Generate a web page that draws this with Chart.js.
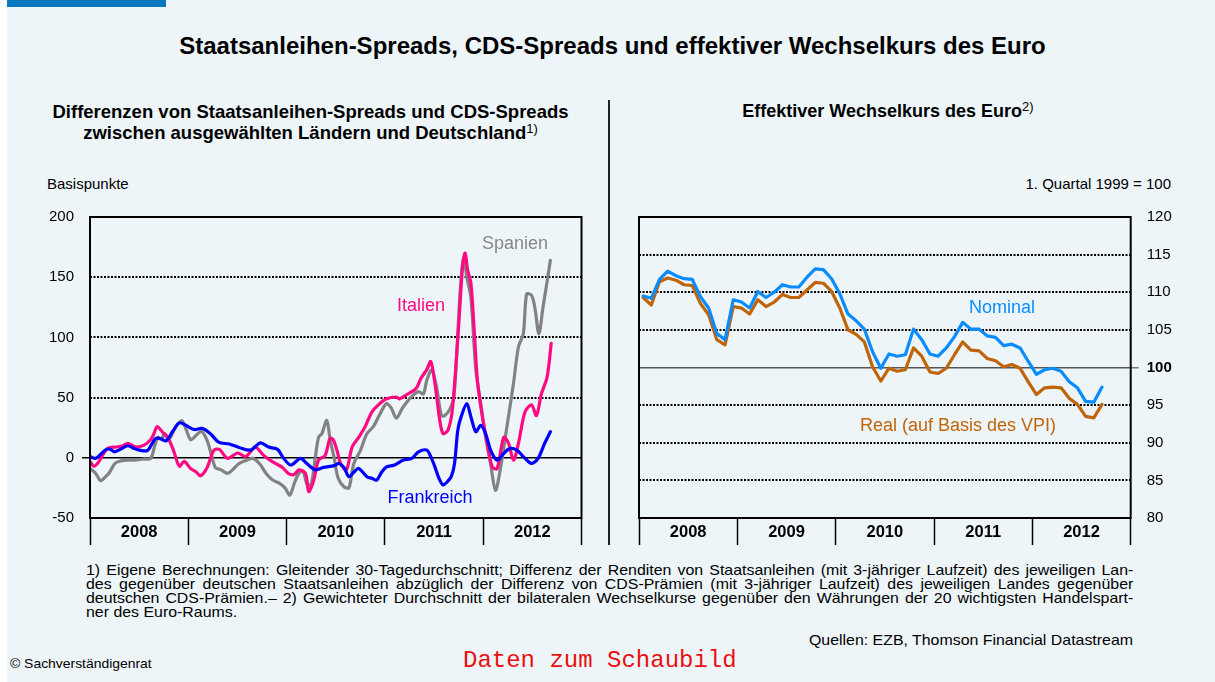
<!DOCTYPE html>
<html lang="de">
<head>
<meta charset="utf-8">
<script src="https://cdn.jsdelivr.net/npm/chart.js@4.4.1/dist/chart.umd.min.js"></script>
<style>
  html, body { margin: 0; padding: 0; background: #ffffff; }
  body { width: 1215px; height: 682px; position: relative; overflow: hidden; font-family: 'Liberation Sans', Arial, sans-serif; color: #000; }
  .panel { position: absolute; left: 7px; top: 0; width: 1208px; height: 682px; background: #edf5f8; }
  .bar { position: absolute; left: 7px; top: 0; width: 159px; height: 7px; background: #0a78be; }
  .t { position: absolute; white-space: nowrap; }
  .fn { position: absolute; left: 86px; width: 988px; transform: scaleX(1.06); transform-origin: 0 0; font-family: 'Liberation Sans', Arial, sans-serif; font-size: 15px; line-height: 14px; white-space: nowrap; }
  .fn div { text-align: justify; text-align-last: justify; height: 14px; }
  .fn div.last { text-align-last: left; }
  canvas { position: absolute; }
  sup { font-weight: normal; font-size: 13px; vertical-align: 6px; line-height: 0; }
</style>
</head>
<body>
<div class="panel"></div>
<div class="bar"></div>

<div class="t" style="left:0;width:1225px;top:32px;text-align:center;font-size:24px;font-weight:bold;line-height:28px;">Staatsanleihen-Spreads, CDS-Spreads und effektiver Wechselkurs des Euro</div>

<div class="t" style="left:0;width:621px;top:101px;text-align:center;font-size:18.5px;font-weight:bold;line-height:21px;">Differenzen von Staatsanleihen-Spreads und CDS-Spreads<br>zwischen ausgewählten Ländern und Deutschland<sup>1)</sup></div>
<div class="t" style="left:688px;width:400px;top:101px;text-align:center;font-size:18px;font-weight:bold;line-height:21px;">Effektiver Wechselkurs des Euro<sup>2)</sup></div>

<div class="t" style="left:47px;top:175px;font-size:15px;line-height:18px;">Basispunkte</div>
<div class="t" style="left:871px;width:300px;top:175px;text-align:right;font-size:15px;line-height:18px;">1. Quartal 1999 = 100</div>

<div style="position:absolute;left:608px;top:100px;width:2px;height:445px;background:#222;"></div>

<canvas id="cl" width="600" height="348" style="left:0;top:200px;width:600px;height:348px;"></canvas>
<canvas id="cr" width="605" height="348" style="left:610px;top:200px;width:605px;height:348px;"></canvas>

<div class="t" style="left:455px;width:120px;top:232px;text-align:center;font-size:18px;line-height:22px;color:#888888;">Spanien</div>
<div class="t" style="left:361px;width:120px;top:294px;text-align:center;font-size:18px;line-height:22px;color:#ff0a82;">Italien</div>
<div class="t" style="left:370px;width:120px;top:486px;text-align:center;font-size:18px;line-height:22px;color:#0000ff;">Frankreich</div>
<div class="t" style="left:942px;width:120px;top:296px;text-align:center;font-size:18px;line-height:22px;color:#0a8cff;">Nominal</div>
<div class="t" style="left:828px;width:260px;top:414px;text-align:center;font-size:18px;line-height:22px;color:#c0640a;">Real (auf Basis des VPI)</div>

<div class="fn" style="top:563px;">
  <div>1) Eigene Berechnungen: Gleitender 30-Tagedurchschnitt; Differenz der Renditen von Staatsanleihen (mit 3-jähriger Laufzeit) des jeweiligen Lan-</div>
  <div>des gegenüber deutschen Staatsanleihen abzüglich der Differenz von CDS-Prämien (mit 3-jähriger Laufzeit) des jeweiligen Landes gegenüber</div>
  <div>deutschen CDS-Prämien.– 2) Gewichteter Durchschnitt der bilateralen Wechselkurse gegenüber den Währungen der 20 wichtigsten Handelspart-</div>
  <div class="last">ner des Euro-Raums.</div>
</div>
<div class="t" style="left:633px;width:500px;top:632px;text-align:right;transform:scaleX(1.06);transform-origin:500px 0;font-size:15px;line-height:16px;">Quellen: EZB, Thomson Financial Datastream</div>
<div class="t" style="left:10px;top:657px;transform:scaleX(1.07);transform-origin:0 0;font-size:13px;line-height:14px;">© Sachverständigenrat</div>
<div class="t" style="left:463px;top:648px;font-family:'Liberation Mono','DejaVu Sans Mono',monospace;font-size:24px;line-height:26px;color:#e81010;">Daten zum Schaubild</div>

<script>
// ---------- DATA ----------
const yearLabels = ['2008', '2009', '2010', '2011', '2012'];
const xTickMonths = [0, 6, 12, 18, 24, 30, 36, 42, 48, 54, 60];
const leftTicks = [-50, 0, 50, 100, 150, 200];
const rightTicks = [80, 85, 90, 95, 100, 105, 110, 115, 120];

// Left panel: months since Jan 2008 and values in basis points (30-day moving average)
const spanienMonths = [0,0.7,1.3,2.0,2.4,3.0,3.5,4.5,5.5,6.5,7.4,7.9,8.3,8.7,9.1,9.6,10.5,11.2,11.6,12.3,13.0,13.6,14.2,14.6,15.3,16.0,16.8,17.4,18.2,19.1,19.9,20.7,21.5,22.3,23.1,23.8,24.4,25.0,25.5,26.0,26.5,27.0,27.5,27.9,28.3,28.9,29.3,29.8,30.3,31.0,31.6,32.2,33.0,33.8,34.6,35.6,36.2,36.8,37.4,38.2,39.3,40.1,40.7,41.1,41.7,42.3,42.9,43.3,43.9,44.4,44.8,45.2,45.6,46.0,46.5,47.1,47.7,48.3,48.9,49.5,50.1,50.9,51.7,52.3,52.9,53.3,53.9,54.3,54.8,55.3,55.7,56.2];
const spanienValues = [-9,-13,-19,-15,-12,-5,-3,-2,-2,-1,-0.5,10,17,15,20,15,26,31,26,15,19,22,16,8,-8,-10,-13,-10,-4.7,-2,-0.5,-5,-13,-18.5,-21,-25,-31,-20,-13,-11,-22,-22,0,17,20,31,16,0,-17,-24,-25,-5,6,20,26,39,45,41,33,42,51,55,53,64,73,59,35,35,40,50,90,140,166,150,133,73,45,17,-5,-27,-9,26,62,92,103,136,135,125,103,125,142,164];

const italienMonths = [0,0.5,1.1,1.6,2.2,3.2,4.0,4.6,5.6,6.6,7.4,7.8,8.2,8.9,9.5,10.2,10.9,11.5,12.3,13.0,13.5,14.3,15.1,15.8,16.8,18.0,19.0,19.6,20.2,21.2,22.2,23.5,24.2,24.9,25.5,26.3,26.7,27.3,27.9,28.7,29.3,29.7,30.2,30.6,31.3,32.0,32.8,33.6,34.4,35.2,36.2,37.4,37.8,38.8,39.8,40.4,41.1,41.6,42.1,42.7,43.1,43.7,44.2,44.6,45.1,45.5,45.8,46.1,46.5,46.9,47.3,47.9,48.5,49.1,49.7,50.5,51.1,51.7,52.3,53.1,53.9,54.5,55.1,55.8,56.3];
const italienValues = [-3,-7,-3,3,8,9,10,12,9,10.5,15,20,26,21,17,6,-7,-3,-9,-12,-15,-8,6,7,-0.5,4,1,5,9,2,-3,-8,-13,-14,-10,-13,-28,-19,-2,2,16,15,5,-5,-10,9,17,26,38,44,49,50.5,49,53,57.5,66,73,80,62,31,20,23,38,70,120,160,170,156,145,106,64,34,12,-7.5,-9,17,12,-2,12,38,44,35,53,67,95];

const frankreichMonths = [0,0.7,1.3,2.0,2.5,3.0,3.7,4.6,5.3,6.0,7.0,7.6,8.0,8.6,9.3,10.1,10.9,11.7,12.7,13.7,14.7,15.7,17.0,18.2,19.6,20.8,21.8,22.9,23.6,24.5,25.7,26.5,27.5,28.5,29.8,30.4,31.0,31.6,32.2,32.8,33.8,34.4,35.0,35.6,36.2,37.2,38.2,39.3,40.1,41.1,41.6,42.1,42.6,43.1,43.6,44.1,44.5,44.9,45.3,46.0,46.5,47.1,47.7,48.3,48.9,49.7,50.5,51.3,52.1,52.9,53.9,54.7,55.5,56.2];
const frankreichValues = [1,-0.5,3,7,7,5,7,10,8,6.4,6,12,16,16,14,22,29,27,23.5,24.4,20,13,11.4,8.6,6.4,12.4,9,7,0,-6,-0.5,-5,-10,-8,-6.5,-4.7,-8,-15.7,-12,-8.8,-15.7,-17,-18.5,-12,-7.5,-6,-2,-0.5,5,6.4,1,-7.5,-17,-22.6,-20,-15.7,-4.7,23,34,45,34,21.6,27,20,6.4,-2,3.6,7.8,6.4,1,-4.7,-0.5,12,21.6];

// Right panel: monthly values Jan 2008 - Sep 2012 (1. Quartal 1999 = 100)
const nominalValues = [109.5,109.2,111.7,112.8,112.2,111.8,111.7,109.4,107.9,104.5,103.7,109.0,108.7,107.9,110.1,109.3,110.0,111.0,110.7,110.7,112.0,113.1,113.0,111.8,109.8,107.1,106.2,105.1,102.1,99.9,101.8,101.5,101.7,105.1,103.7,101.8,101.5,102.6,104.1,106.0,105.1,105.1,104.2,104.0,102.9,103.1,102.6,100.8,99.1,99.7,99.9,99.5,98.1,97.3,95.5,95.4,97.4];
const realValues = [109.3,108.3,111.4,111.9,111.6,111.0,110.9,108.5,107.0,103.7,103.0,108.1,107.9,107.1,109.0,108.1,108.7,109.7,109.3,109.3,110.3,111.3,111.2,110.1,107.9,105.0,104.4,103.4,100.1,98.2,99.9,99.5,99.7,102.6,101.5,99.4,99.2,99.9,101.7,103.4,102.3,102.2,101.2,100.9,100.1,100.4,99.9,98.1,96.4,97.3,97.4,97.3,95.9,95.1,93.5,93.3,95.1];

// ---------- CHARTS ----------
Chart.defaults.font.family = "'Liberation Sans', Arial, sans-serif";
Chart.defaults.color = '#000';

const pts = (ms, vs) => ms.map((m, i) => ({ x: m, y: vs[i] }));
const monthly = vs => vs.map((v, i) => ({ x: i + 0.5, y: v }));
const CLEAR = 'rgba(0,0,0,0)';

const framePlugin = {
  id: 'frame',
  afterDraw(chart) {
    const a = chart.chartArea, c = chart.ctx;
    c.save();
    c.strokeStyle = '#000';
    c.lineWidth = 2;
    c.strokeRect(a.left, a.top, a.right - a.left, a.bottom - a.top);
    c.restore();
  }
};

function xAxis() {
  return {
    type: 'linear', min: 0, max: 60,
    afterBuildTicks: s => { s.ticks = xTickMonths.map(v => ({ value: v })); },
    afterFit: s => { s.height = 30; },
    grid: {
      drawOnChartArea: false, drawTicks: true, tickLength: 27, tickWidth: 1.5,
      tickColor: c => (c.tick && c.tick.value % 12 === 0) ? '#000' : CLEAR
    },
    border: { display: false },
    ticks: {
      autoSkip: false, maxRotation: 0, minRotation: 0, padding: -22,
      font: { size: 16.5, weight: 'bold' },
      callback: v => (v % 12 === 6) ? yearLabels[(v - 6) / 12] : ''
    }
  };
}

const lineDs = (label, data, color, tension) => ({
  label, data, borderColor: color, backgroundColor: color,
  borderWidth: 3.2, pointRadius: 0, tension: tension, fill: false,
  borderJoinStyle: 'round', borderCapStyle: 'round'
});

new Chart(document.getElementById('cl'), {
  type: 'line',
  data: {
    datasets: [
      lineDs('Frankreich', pts(frankreichMonths, frankreichValues), '#0000ff', 0.3),
      lineDs('Italien', pts(italienMonths, italienValues), '#ff0a82', 0.3),
      lineDs('Spanien', pts(spanienMonths, spanienValues), '#828282', 0.3)
    ]
  },
  options: {
    responsive: false, animation: false, maintainAspectRatio: false,
    layout: { padding: { left: 0, right: 18.5, top: 15.7, bottom: 0 } },
    plugins: { legend: { display: false }, tooltip: { enabled: false } },
    scales: {
      x: xAxis(),
      y: {
        min: -50, max: 200,
        afterBuildTicks: s => { s.ticks = leftTicks.map(v => ({ value: v })); },
        afterFit: s => { s.width = 90; },
        grid: {
          lineWidth: c => (c.tick && c.tick.value === 0) ? 1.5 : 2,
          color: c => (!c.tick || c.tick.value === 200 || c.tick.value === -50) ? CLEAR : '#000',
          drawTicks: true, tickLength: 8, tickWidth: 1.5,
          tickColor: c => (c.tick && c.tick.value === 0) ? '#000' : CLEAR
        },
        border: { display: false, dash: c => (c.tick && c.tick.value === 0) ? [] : [2, 1.5] },
        ticks: { padding: 8, font: { size: 15 } }
      }
    }
  },
  plugins: [framePlugin]
});

new Chart(document.getElementById('cr'), {
  type: 'line',
  data: {
    datasets: [
      lineDs('Nominal', monthly(nominalValues), '#0a8cff', 0),
      lineDs('Real (auf Basis des VPI)', monthly(realValues), '#c0640a', 0)
    ]
  },
  options: {
    responsive: false, animation: false, maintainAspectRatio: false,
    layout: { padding: { left: 29, right: 0, top: 15.7, bottom: 0 } },
    plugins: { legend: { display: false }, tooltip: { enabled: false } },
    scales: {
      x: xAxis(),
      y: {
        position: 'right', min: 80, max: 120,
        afterBuildTicks: s => { s.ticks = rightTicks.map(v => ({ value: v })); },
        afterFit: s => { s.width = 84.3; },
        grid: {
          lineWidth: c => (c.tick && c.tick.value === 100) ? 1.5 : 2,
          color: c => (!c.tick || c.tick.value === 120 || c.tick.value === 80) ? CLEAR : (c.tick.value === 100 ? '#555' : '#000'),
          drawTicks: true, tickLength: 8, tickWidth: 1.5,
          tickColor: c => (c.tick && c.tick.value === 100) ? '#777' : CLEAR
        },
        border: { display: false, dash: c => (c.tick && c.tick.value === 100) ? [] : [2, 1.5] },
        ticks: {
          padding: 8,
          font: c => ({ size: 15, weight: (c.tick && c.tick.value === 100) ? 'bold' : 'normal' })
        }
      }
    }
  },
  plugins: [framePlugin]
});
</script>
</body>
</html>
